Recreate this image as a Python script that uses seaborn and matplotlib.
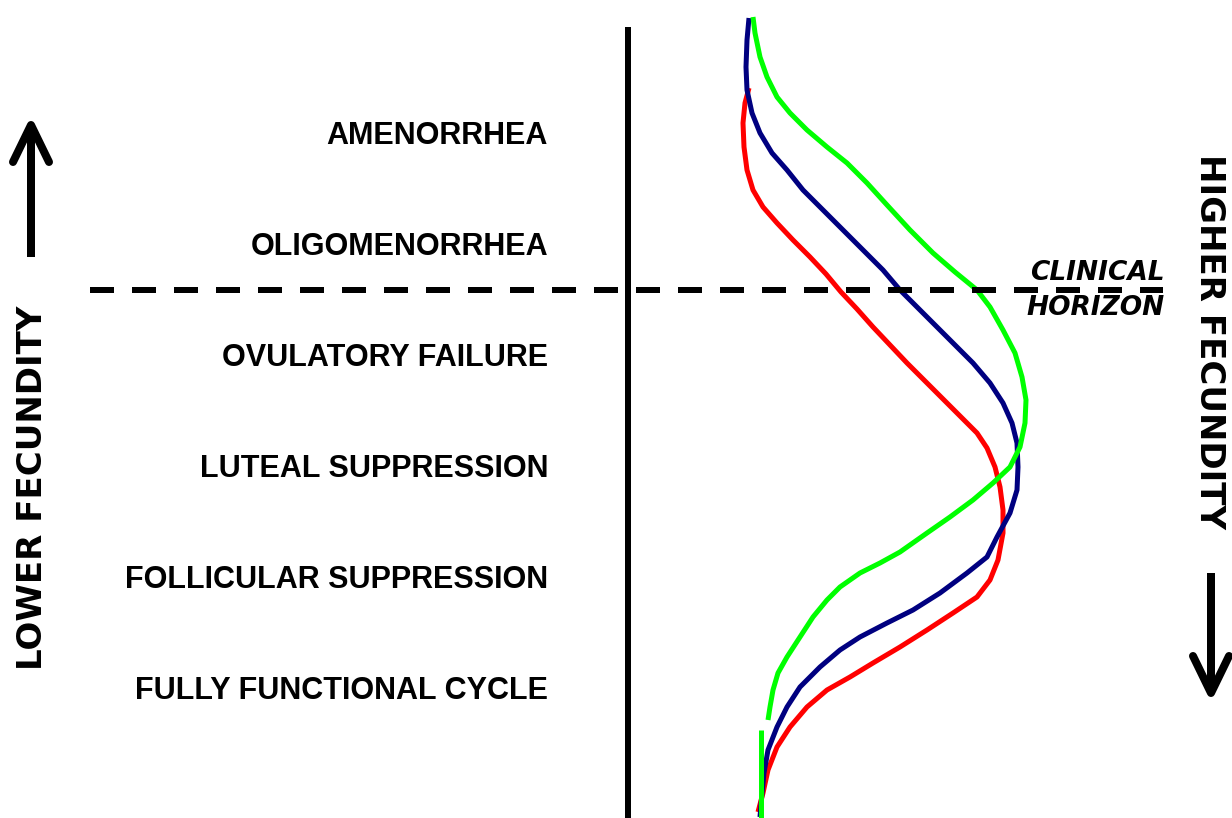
# Fecundity continuum diagram: cycle stages on the left, population curves on the right
import numpy as np
import pandas as pd
import matplotlib
matplotlib.use("Agg")
import matplotlib.pyplot as plt
import seaborn as sns

# Stage labels (top to bottom) and their baselines in picture pixels
stages = ["AMENORRHEA", "OLIGOMENORRHEA", "OVULATORY FAILURE",
          "LUTEAL SUPPRESSION", "FOLLICULAR SUPPRESSION", "FULLY FUNCTIONAL CYCLE"]
stage_y = [144, 255, 366, 477, 588, 699]

# Curves (x, y in pixel units, y grows downward)
green_x = [753, 755, 760, 767, 777, 790, 807, 827, 847, 867, 887, 910, 933, 955, 977,
           990, 1003, 1015, 1022, 1026, 1025, 1020, 1010, 993, 973, 950, 927, 900,
           880, 860, 840, 827, 813, 800, 787, 778, 773, 770, 768]
green_y = [17, 33, 57, 77, 97, 113, 130, 147, 163, 183, 205, 230, 253, 272, 290,
           307, 330, 353, 377, 400, 423, 447, 467, 483, 500, 517, 533, 552,
           563, 573, 587, 600, 617, 637, 657, 673, 690, 707, 720]
green_tail_x = [761, 761]
green_tail_y = [730, 818]

navy_x = [749, 747, 746, 747, 752, 760, 772, 787, 803, 823, 843, 863, 883, 900, 917,
          933, 953, 973, 990, 1003, 1012, 1017, 1018, 1017, 1010, 997, 987, 967, 940,
          913, 887, 860, 840, 820, 800, 787, 777, 768, 764, 762, 760]
navy_y = [18, 40, 67, 90, 113, 133, 153, 170, 190, 210, 230, 250, 270, 290, 307,
          323, 343, 363, 383, 403, 423, 443, 467, 490, 513, 537, 557, 573, 593,
          610, 623, 637, 650, 667, 687, 707, 727, 750, 773, 793, 817]

red_x = [749, 745, 743, 744, 747, 753, 763, 777, 793, 810, 826, 841, 857, 873, 890,
         907, 927, 947, 963, 977, 987, 995, 1000, 1003, 1003, 998, 990, 977, 953, 927,
         900, 873, 850, 827, 807, 790, 777, 768, 763, 758]
red_y = [88, 103, 123, 147, 170, 190, 207, 223, 240, 257, 274, 292, 309, 327, 345,
         363, 383, 403, 419, 433, 448, 467, 487, 510, 533, 560, 580, 597, 613, 630,
         647, 663, 677, 690, 707, 727, 747, 770, 793, 812]

W, H = 1232, 818
sns.set_theme(style="white")
plt.rcParams['font.family'] = ['Liberation Sans', 'DejaVu Sans']
plt.rcParams['text.color'] = 'black'

fig = plt.figure(figsize=(W / 100, H / 100), dpi=100)
ax = fig.add_axes([0, 0, 1, 1])
ax.set_xlim(0, W)
ax.set_ylim(H, 0)
ax.axis("off")

px = 72 / 100  # one pixel in points

# curves
curves = pd.DataFrame({
    "x": green_x + green_tail_x + navy_x + red_x,
    "y": green_y + green_tail_y + navy_y + red_y,
    "curve": (["green"] * len(green_x) + ["green_tail"] * len(green_tail_x)
              + ["navy"] * len(navy_x) + ["red"] * len(red_x)),
})
palette = {"green": "#00ff00", "green_tail": "#00ff00", "navy": "#000080", "red": "#ff0000"}
for name in ["red", "navy", "green", "green_tail"]:
    sub = curves[curves["curve"] == name]
    sns.lineplot(data=sub, x="x", y="y", sort=False, estimator=None, color=palette[name],
                 lw=5 * px, ax=ax, legend=False,
                 solid_capstyle="butt", solid_joinstyle="round")

# vertical divider and clinical horizon
ax.plot([627.5, 627.5], [27, H], color="black", lw=6 * px, solid_capstyle="butt")
ax.plot([90, 1163], [289.7, 289.7], color="black", lw=6 * px, dashes=(4, 3))

# stage labels
for lab, yb in zip(stages, stage_y):
    ax.text(548, yb, lab, ha="right", va="baseline", fontsize=22, fontweight="bold",
            color="black")

ax.text(1165, 280, "CLINICAL", ha="right", va="baseline", fontsize=19,
        fontweight="bold", style="italic", family=["DejaVu Sans"], color="black")
ax.text(1165, 315, "HORIZON", ha="right", va="baseline", fontsize=19,
        fontweight="bold", style="italic", family=["DejaVu Sans"], color="black")

# side captions
ax.text(33, 488, "LOWER FECUNDITY", rotation=90, ha="center", va="center",
        fontsize=24.5, fontweight="bold", family=["DejaVu Sans"], color="black")
ax.text(1209, 342, "HIGHER FECUNDITY", rotation=-90, ha="center", va="center",
        fontsize=24.5, fontweight="bold", family=["DejaVu Sans"], color="black")

# arrows
def arrow(x, y_tail, y_tip, half=18, head=37):
    d = 1 if y_tip < y_tail else -1
    ax.plot([x, x], [y_tail, y_tip + d * 3], color="black", lw=8 * px, solid_capstyle="butt")
    ax.plot([x - half, x, x + half], [y_tip + d * head, y_tip, y_tip + d * head],
            color="black", lw=8 * px, solid_capstyle="round", solid_joinstyle="round")

arrow(31, 257, 125)
arrow(1211, 573, 693)

fig.savefig("out.png", dpi=100, facecolor="white")
